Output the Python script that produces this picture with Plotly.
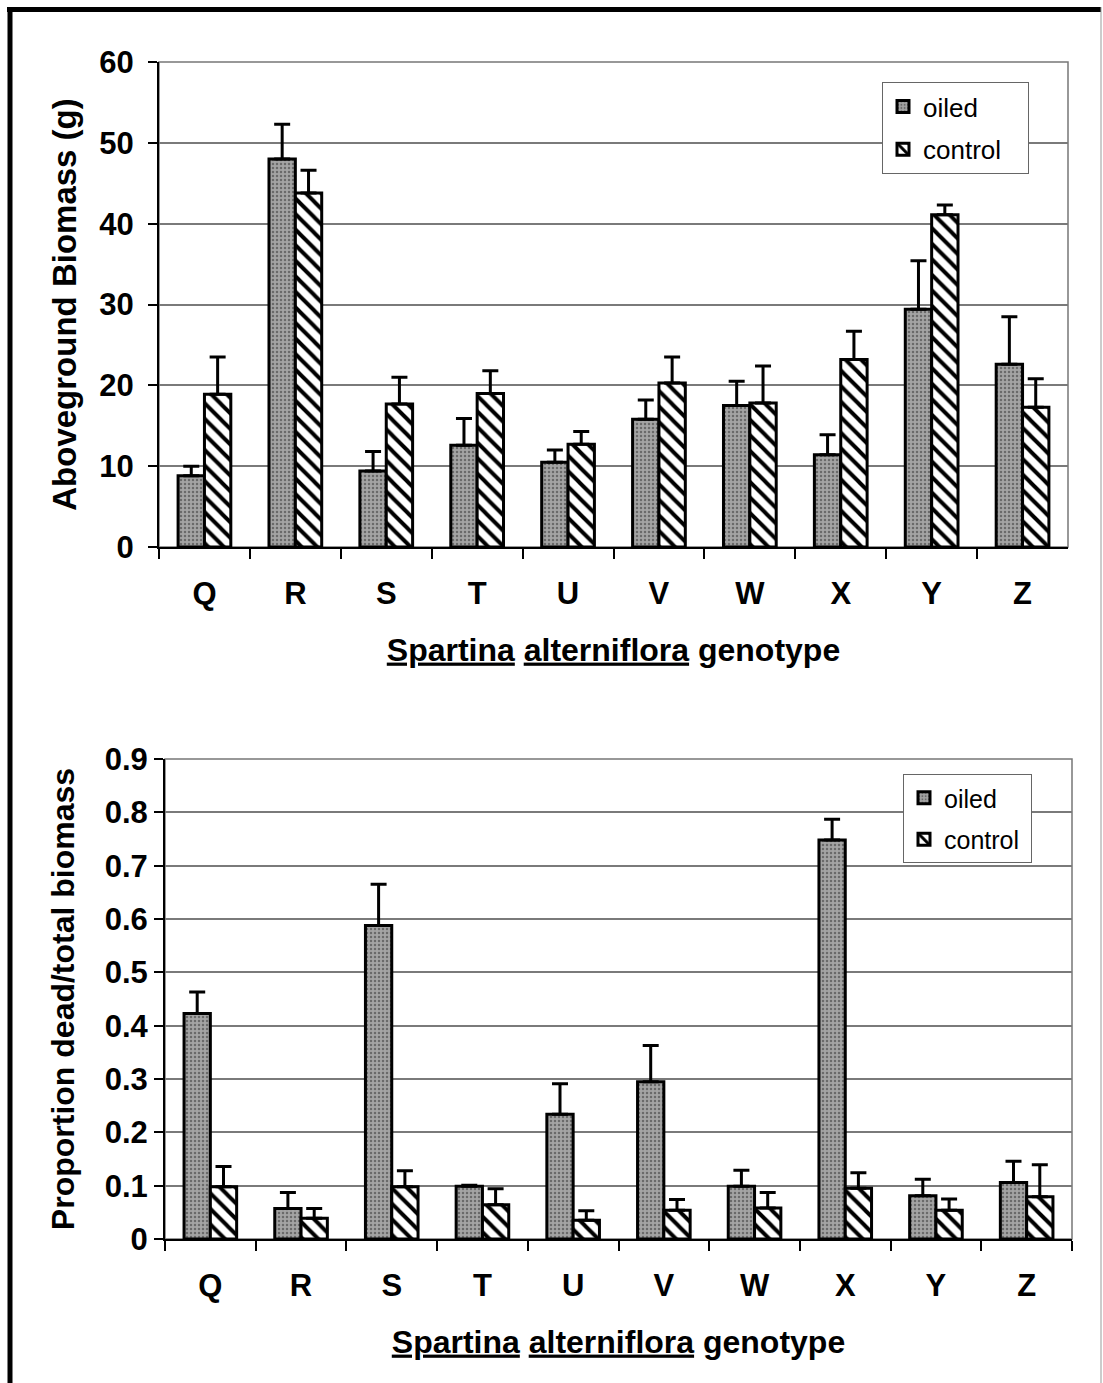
import plotly.graph_objects as go

genotypes = ["Q", "R", "S", "T", "U", "V", "W", "X", "Y", "Z"]

# Top panel: aboveground biomass (g)
biomass_oiled = [8.8, 48.0, 9.4, 12.6, 10.5, 15.8, 17.5, 11.4, 29.4, 22.6]
biomass_oiled_err = [1.2, 4.3, 2.4, 3.3, 1.5, 2.4, 3.0, 2.5, 6.0, 5.9]
biomass_control = [18.9, 43.8, 17.7, 19.0, 12.7, 20.3, 17.8, 23.2, 41.1, 17.3]
biomass_control_err = [4.6, 2.8, 3.3, 2.8, 1.6, 3.2, 4.6, 3.5, 1.2, 3.5]

# Bottom panel: proportion dead / total biomass
prop_oiled = [0.423, 0.057, 0.588, 0.099, 0.234, 0.295, 0.099, 0.748, 0.081, 0.106]
prop_oiled_err = [0.040, 0.030, 0.077, 0.002, 0.057, 0.068, 0.030, 0.039, 0.031, 0.040]
prop_control = [0.098, 0.039, 0.098, 0.064, 0.035, 0.054, 0.058, 0.095, 0.054, 0.079]
prop_control_err = [0.038, 0.018, 0.030, 0.030, 0.018, 0.020, 0.029, 0.029, 0.021, 0.060]

series_names = ["oiled", "control"]

W, H = 1103, 1383
FONT = "Liberation Sans, Arial, sans-serif"
NBSP = "\u00a0"

oiled_marker = dict(
    color="#9a9a9a",
    line=dict(color="black", width=3),
    pattern=dict(shape=".", fillmode="replace", bgcolor="#a4a4a4",
                 fgcolor="#6a6a6a", size=4, solidity=0.3),
)
control_marker = dict(
    color="white",
    line=dict(color="black", width=3),
    pattern=dict(shape="\\", fillmode="replace", bgcolor="white",
                 fgcolor="black", size=11, solidity=0.36),
)


def err(arr):
    return dict(type="data", array=arr, arrayminus=[0] * len(arr),
                symmetric=False, color="black", thickness=3, width=8)


fig = go.Figure()
fig.add_trace(go.Bar(x=genotypes, y=biomass_oiled, name=series_names[0],
                     marker=oiled_marker, error_y=err(biomass_oiled_err),
                     xaxis="x", yaxis="y", legend="legend", legendgroup="o1"))
fig.add_trace(go.Bar(x=genotypes, y=biomass_control, name=series_names[1] + NBSP * 3,
                     marker=control_marker, error_y=err(biomass_control_err),
                     xaxis="x", yaxis="y", legend="legend", legendgroup="c1"))
fig.add_trace(go.Bar(x=genotypes, y=prop_oiled, name=series_names[0],
                     marker=oiled_marker, error_y=err(prop_oiled_err),
                     xaxis="x2", yaxis="y2", legend="legend2", legendgroup="o2"))
fig.add_trace(go.Bar(x=genotypes, y=prop_control, name=series_names[1] + NBSP,
                     marker=control_marker, error_y=err(prop_control_err),
                     xaxis="x2", yaxis="y2", legend="legend2", legendgroup="c2"))

xtickfont = dict(family=FONT, size=31, color="black", weight="bold")
ytickfont = dict(family=FONT, size=31, color="black", weight="bold")
xtitle = "<u>Spartina</u> <u>alterniflora</u> genotype"


def xaxis(domain, anchor):
    return dict(domain=domain, anchor=anchor, type="category",
                showline=True, linecolor="black", linewidth=2,
                ticks="outside", tickson="boundaries", ticklen=10,
                tickwidth=1.5, tickcolor="black", tickfont=xtickfont,
                ticklabelstandoff=18,
                showgrid=False, automargin=False,
                title=dict(text=xtitle,
                           font=dict(family=FONT, size=32, color="black", weight="bold"),
                           standoff=28))


def yaxis(domain, anchor, rng, dtick, title, tsize, standoff, tls):
    return dict(domain=domain, anchor=anchor, range=rng, dtick=dtick,
                showline=True, linecolor="black", linewidth=2,
                ticks="outside", ticklen=9, tickwidth=1.5, tickcolor="black",
                tickfont=ytickfont, ticklabelstandoff=tls,
                showgrid=True, gridcolor="#7a7a7a",
                gridwidth=1.5, zeroline=False, automargin=False,
                title=dict(text=title,
                           font=dict(family=FONT, size=tsize, color="black", weight="bold"),
                           standoff=standoff))


fig.update_layout(
    width=W, height=H,
    margin=dict(l=0, r=0, t=0, b=0),
    paper_bgcolor="white", plot_bgcolor="white",
    barmode="group", bargap=0.42, bargroupgap=0,
    font=dict(family=FONT, color="black"),
    xaxis=xaxis([159 / W, 1068 / W], "y"),
    yaxis=yaxis([1 - 547 / H, 1 - 62 / H], "x", [0, 60], 10,
                "Aboveground Biomass (g)", 33, 13, 8),
    xaxis2=xaxis([165 / W, 1072 / W], "y2"),
    yaxis2=yaxis([1 - 1239 / H, 1 - 759 / H], "x2", [0, 0.9], 0.1,
                 "Proportion dead/total biomass", 32, 20, 0),
    legend=dict(x=882 / W, y=1 - 82 / H, xanchor="left", yanchor="top",
                bgcolor="white", bordercolor="#666666", borderwidth=1,
                font=dict(family=FONT, size=26, color="black"),
                tracegroupgap=6, traceorder="grouped"),
    legend2=dict(x=903 / W, y=1 - 774 / H, xanchor="left", yanchor="top",
                 bgcolor="white", bordercolor="#666666", borderwidth=1,
                 font=dict(family=FONT, size=25, color="black"),
                 tracegroupgap=6, traceorder="grouped"),
    showlegend=True,
)

# plot-area frame (gray top/right) for both panels
for xr, yr in (("x", "y"), ("x2", "y2")):
    fig.add_shape(type="rect", xref=f"{xr} domain", yref=f"{yr} domain",
                  x0=0, x1=1, y0=0, y1=1, line=dict(color="#777777", width=1.5),
                  layer="below")

# outer page border
fig.add_shape(type="line", xref="paper", yref="paper", x0=7 / W, x1=1101 / W,
              y0=1 - 9.5 / H, y1=1 - 9.5 / H, line=dict(color="black", width=5))
fig.add_shape(type="line", xref="paper", yref="paper", x0=10 / W, x1=10 / W,
              y0=0, y1=1 - 7 / H, line=dict(color="black", width=5))
fig.add_shape(type="line", xref="paper", yref="paper", x0=1101 / W, x1=1101 / W,
              y0=0, y1=1 - 7 / H, line=dict(color="#999999", width=1))

fig.write_html("out.html")
